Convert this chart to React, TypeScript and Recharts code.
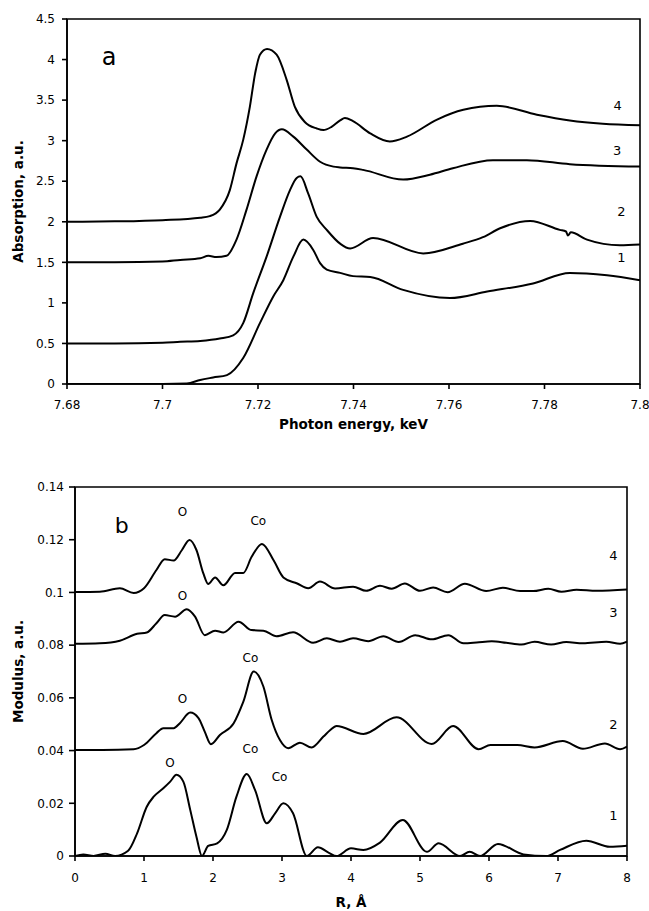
import { LineChart, Line, XAxis, YAxis, ReferenceArea, ReferenceDot } from "recharts"

// panel a: absorption edge spectra, offset by 0.5 each
const energy1 = [7.68, 7.69, 7.7, 7.7051, 7.7079, 7.7106, 7.7135, 7.7169, 7.7204, 7.7232, 7.7253, 7.7274, 7.7295, 7.7316, 7.733, 7.7344, 7.7372, 7.7399, 7.7435, 7.7504, 7.7602, 7.768, 7.7776, 7.7853, 7.7931, 7.8]
const absorption1 = [0, 0, 0, 0.005, 0.05, 0.08, 0.11, 0.32, 0.75, 1.08, 1.28, 1.57, 1.78, 1.65, 1.49, 1.41, 1.37, 1.33, 1.32, 1.16, 1.06, 1.14, 1.24, 1.37, 1.34, 1.28]

const energy2 = [7.68, 7.69, 7.7, 7.7037, 7.7079, 7.712, 7.7148, 7.7169, 7.719, 7.7218, 7.7246, 7.7267, 7.7281, 7.7289, 7.7305, 7.7323, 7.7344, 7.7372, 7.7393, 7.7441, 7.7546, 7.7629, 7.7671, 7.7707, 7.777, 7.7832, 7.7845, 7.7849, 7.7855, 7.7889, 7.7958, 7.8]
const absorption2 = [0.5, 0.5, 0.51, 0.52, 0.53, 0.56, 0.6, 0.75, 1.12, 1.57, 2.06, 2.39, 2.54, 2.56, 2.35, 2.06, 1.9, 1.73, 1.67, 1.8, 1.61, 1.73, 1.81, 1.92, 2.01, 1.9, 1.88, 1.83, 1.87, 1.78, 1.71, 1.72]

const energy3 = [7.68, 7.69, 7.7, 7.7037, 7.7079, 7.7096, 7.7113, 7.7134, 7.7155, 7.7176, 7.7197, 7.7218, 7.7236, 7.725, 7.7274, 7.7302, 7.733, 7.7358, 7.7372, 7.7399, 7.742, 7.7504, 7.756, 7.7608, 7.7692, 7.7763, 7.7853, 7.8]
const absorption3 = [1.5, 1.5, 1.51, 1.53, 1.55, 1.58, 1.565, 1.58, 1.78, 2.15, 2.56, 2.89, 3.09, 3.14, 3.05, 2.89, 2.74, 2.68, 2.67, 2.66, 2.64, 2.52, 2.58, 2.66, 2.76, 2.76, 2.71, 2.68]

const energy4 = [7.68, 7.69, 7.7, 7.7079, 7.7099, 7.712, 7.7141, 7.7155, 7.7169, 7.7183, 7.7194, 7.7204, 7.7219, 7.7239, 7.726, 7.7277, 7.7298, 7.7323, 7.7337, 7.7354, 7.7372, 7.7382, 7.7399, 7.7435, 7.7476, 7.7512, 7.7575, 7.763, 7.77, 7.7784, 7.7853, 7.7922, 7.8]
const absorption4 = [2.0, 2.005, 2.02, 2.05, 2.07, 2.15, 2.39, 2.72, 3.01, 3.42, 3.83, 4.06, 4.13, 4.06, 3.75, 3.42, 3.23, 3.15, 3.13, 3.17, 3.25, 3.28, 3.24, 3.09, 2.99, 3.05, 3.26, 3.38, 3.43, 3.32, 3.25, 3.21, 3.19]

const energyTicks = [7.68, 7.7, 7.72, 7.74, 7.76, 7.78, 7.8]
const absorptionTicks = [0, 0.5, 1, 1.5, 2, 2.5, 3, 3.5, 4, 4.5]

// panel b: Fourier transform modulus, offset by 0.04 / 0.02
const r1 = [0, 0.12, 0.27, 0.44, 0.58, 0.77, 0.9, 1.04, 1.14, 1.28, 1.38, 1.47, 1.57, 1.67, 1.76, 1.84, 1.93, 2.06, 2.2, 2.34, 2.49, 2.61, 2.78, 2.9, 3.02, 3.16, 3.36, 3.52, 3.68, 3.79, 4.0, 4.18, 4.42, 4.75, 5.1, 5.27, 5.58, 5.72, 5.87, 6.13, 6.5, 6.83, 7.03, 7.41, 7.75, 8.0]
const modulus1 = [0, 0.0006, 0, 0.0009, 0, 0.002, 0.0086, 0.0187, 0.0225, 0.0257, 0.0282, 0.0308, 0.0282, 0.0175, 0.0073, 0, 0.0038, 0.0048, 0.0099, 0.0225, 0.0311, 0.025, 0.0124, 0.0162, 0.02, 0.0162, 0, 0.0033, 0.0012, 0, 0.0029, 0.0023, 0.0051, 0.0137, 0.0016, 0.0048, 0, 0.0016, 0, 0.0046, 0.0006, 0, 0.0023, 0.0058, 0.0035, 0.0039]

const r2 = [0, 0.4, 0.85, 1.0, 1.18, 1.28, 1.43, 1.52, 1.67, 1.79, 1.88, 1.97, 2.1, 2.3, 2.44, 2.59, 2.73, 2.85, 2.97, 3.09, 3.26, 3.43, 3.6, 3.7, 3.79, 4.18, 4.66, 5.17, 5.48, 5.85, 6.02, 6.41, 6.66, 7.07, 7.36, 7.68, 7.9, 8.0]
const modulus2 = [0.0402, 0.0402, 0.0405, 0.0421, 0.0466, 0.0485, 0.0485, 0.0504, 0.0544, 0.0523, 0.0472, 0.0424, 0.0459, 0.0504, 0.0586, 0.07, 0.0643, 0.0517, 0.044, 0.0409, 0.043, 0.0412, 0.0453, 0.0478, 0.0493, 0.0463, 0.0526, 0.0425, 0.0493, 0.0405, 0.0421, 0.0421, 0.0412, 0.0436, 0.0407, 0.0427, 0.0405, 0.0415]

const r3 = [0, 0.36, 0.65, 0.9, 1.04, 1.18, 1.3, 1.45, 1.62, 1.74, 1.88, 2.03, 2.15, 2.37, 2.56, 2.73, 2.92, 3.16, 3.45, 3.65, 3.84, 4.03, 4.25, 4.47, 4.69, 4.93, 5.17, 5.41, 5.63, 5.82, 6.04, 6.25, 6.47, 6.66, 6.9, 7.12, 7.36, 7.7, 7.9, 8.0]
const modulus3 = [0.0805, 0.0807, 0.0817, 0.0843, 0.0848, 0.0883, 0.0914, 0.0908, 0.0936, 0.0908, 0.0838, 0.0855, 0.0848, 0.0889, 0.0857, 0.0855, 0.0834, 0.0849, 0.0809, 0.0826, 0.0813, 0.0826, 0.0815, 0.0834, 0.0812, 0.0838, 0.0822, 0.0838, 0.0807, 0.081, 0.0815, 0.0809, 0.0802, 0.0813, 0.0802, 0.0812, 0.0807, 0.0813, 0.0805, 0.0813]

const r4 = [0, 0.36, 0.65, 0.85, 1.0, 1.18, 1.3, 1.43, 1.55, 1.66, 1.76, 1.86, 1.93, 2.03, 2.15, 2.32, 2.44, 2.56, 2.71, 2.88, 3.02, 3.22, 3.38, 3.55, 3.77, 4.03, 4.22, 4.42, 4.59, 4.78, 5.0, 5.19, 5.4, 5.65, 5.96, 6.2, 6.45, 6.64, 6.86, 7.05, 7.27, 7.56, 8.0]
const modulus4 = [0.1002, 0.1003, 0.1016, 0.0998, 0.1016, 0.1085, 0.1126, 0.1121, 0.1161, 0.1199, 0.1161, 0.1072, 0.1032, 0.1057, 0.1027, 0.1074, 0.1074, 0.1135, 0.1184, 0.1121, 0.1057, 0.1034, 0.1016, 0.1041, 0.1015, 0.1022, 0.1006, 0.1025, 0.1014, 0.1034, 0.1006, 0.1019, 0.1001, 0.1033, 0.1005, 0.1018, 0.1005, 0.1005, 0.1014, 0.1003, 0.101, 0.1006, 0.1011]

const rTicks = [0, 1, 2, 3, 4, 5, 6, 7, 8]
const modulusTicks = [0, 0.02, 0.04, 0.06, 0.08, 0.1, 0.12, 0.14]

const rows = (xs: number[], ys: number[]) => xs.map((x, i) => ({ x, y: ys[i] }))

const topSeries = [
  rows(energy1, absorption1),
  rows(energy2, absorption2),
  rows(energy3, absorption3),
  rows(energy4, absorption4),
]
const bottomSeries = [
  rows(r1, modulus1),
  rows(r2, modulus2),
  rows(r3, modulus3),
  rows(r4, modulus4),
]

// text placed in data coordinates
const topNotes = [
  { x: 7.6888, y: 4.04, text: "a", size: 24 },
  { x: 7.7953, y: 3.44, text: "4", size: 13 },
  { x: 7.7952, y: 2.88, text: "3", size: 13 },
  { x: 7.7961, y: 2.13, text: "2", size: 13 },
  { x: 7.7961, y: 1.56, text: "1", size: 13 },
]
const bottomNotes = [
  { x: 0.676, y: 0.1256, text: "b", size: 22 },
  { x: 1.558, y: 0.1305, text: "O", size: 12 },
  { x: 2.657, y: 0.1271, text: "Co", size: 12 },
  { x: 1.558, y: 0.0988, text: "O", size: 12 },
  { x: 2.543, y: 0.0753, text: "Co", size: 12 },
  { x: 1.558, y: 0.0598, text: "O", size: 12 },
  { x: 1.377, y: 0.0355, text: "O", size: 12 },
  { x: 2.543, y: 0.0406, text: "Co", size: 12 },
  { x: 2.964, y: 0.0302, text: "Co", size: 12 },
  { x: 7.804, y: 0.1142, text: "4", size: 13 },
  { x: 7.804, y: 0.0926, text: "3", size: 13 },
  { x: 7.804, y: 0.0501, text: "2", size: 13 },
  { x: 7.804, y: 0.0154, text: "1", size: 13 },
]

const font = "'DejaVu Sans', 'Liberation Sans', sans-serif"
const axisStroke = { stroke: "#000", strokeWidth: 1.6 }
const tickStyle = { fontSize: 12, fill: "#000" }
const titleStyle = { fontSize: 13.5, fontWeight: "bold", fill: "#000" }

const renderNotes = (notes: typeof topNotes) =>
  notes.map((n, i) => (
    <ReferenceDot
      key={`n${i}`}
      x={n.x}
      y={n.y}
      r={1}
      fill="none"
      stroke="none"
      label={{ value: n.text, position: "center", fontSize: n.size, fill: "#000" }}
    />
  ))

const renderLines = (series: { x: number; y: number }[][]) =>
  series.map((d, i) => (
    <Line
      key={`s${i}`}
      data={d}
      dataKey="y"
      type="monotone"
      stroke="#000"
      strokeWidth={2}
      dot={false}
      activeDot={false}
      isAnimationActive={false}
    />
  ))

export default function App() {
  return (
    <div style={{ position: "absolute", left: 0, top: 0, width: 649, height: 911, background: "#fff" }}>
      <div style={{ position: "absolute", left: 0, top: 0 }}>
        <LineChart width={649} height={455} margin={{ top: 19, right: 9, bottom: 21, left: 0 }} style={{ fontFamily: font }}>
          <XAxis
            type="number"
            dataKey="x"
            domain={[7.68, 7.8]}
            ticks={energyTicks}
            interval={0}
            allowDataOverflow
            height={50}
            tickSize={5}
            tickMargin={11}
            axisLine={axisStroke}
            tickLine={axisStroke}
            tick={tickStyle}
            label={{ value: "Photon energy, keV", position: "insideBottom", offset: 5, ...titleStyle }}
          />
          <YAxis
            type="number"
            domain={[0, 4.5]}
            ticks={absorptionTicks}
            interval={0}
            allowDataOverflow
            width={67}
            tickSize={5}
            tickMargin={7}
            axisLine={axisStroke}
            tickLine={axisStroke}
            tick={tickStyle}
            label={{ value: "Absorption, a.u.", angle: -90, position: "insideLeft", offset: 18, style: { textAnchor: "middle" }, ...titleStyle }}
          />
          <ReferenceArea x1={7.68} x2={7.8} y1={0} y2={4.5} fill="none" stroke="#000" strokeWidth={1.6} />
          {renderLines(topSeries)}
          {renderNotes(topNotes)}
        </LineChart>
      </div>
      <div style={{ position: "absolute", left: 0, top: 455 }}>
        <LineChart width={649} height={456} margin={{ top: 32, right: 22, bottom: 0, left: 0 }} style={{ fontFamily: font }}>
          <XAxis
            type="number"
            dataKey="x"
            domain={[0, 8]}
            ticks={rTicks}
            interval={0}
            allowDataOverflow
            height={55}
            tickSize={5}
            tickMargin={12}
            axisLine={axisStroke}
            tickLine={axisStroke}
            tick={tickStyle}
            label={{ value: "R, Å", position: "insideBottom", offset: 4, ...titleStyle }}
          />
          <YAxis
            type="number"
            domain={[0, 0.14]}
            ticks={modulusTicks}
            interval={0}
            allowDataOverflow
            width={75}
            tickSize={6}
            tickMargin={5}
            axisLine={axisStroke}
            tickLine={axisStroke}
            tick={tickStyle}
            label={{ value: "Modulus, a.u.", angle: -90, position: "insideLeft", offset: 18, style: { textAnchor: "middle" }, ...titleStyle }}
          />
          <ReferenceArea x1={0} x2={8} y1={0} y2={0.14} fill="none" stroke="#000" strokeWidth={1.6} />
          {renderLines(bottomSeries)}
          {renderNotes(bottomNotes)}
        </LineChart>
      </div>
    </div>
  )
}
